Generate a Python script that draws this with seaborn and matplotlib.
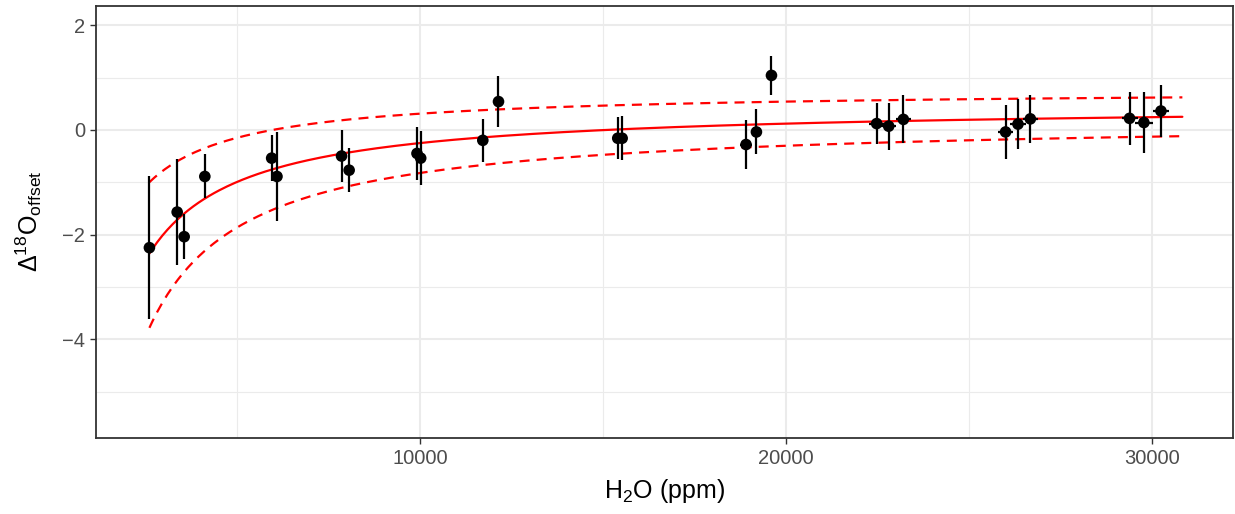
import numpy as np
import pandas as pd
import matplotlib
matplotlib.use("Agg")
import matplotlib.pyplot as plt
import seaborn as sns

# ---- data ----
h2o_ppm = [2603, 3362, 3553, 4118, 5945, 6090, 7855, 8063, 9918, 10019,
           11717, 12146, 15406, 15526, 18913, 19197, 19608, 22484, 22813,
           23214, 26008, 26347, 26685, 29397, 29789, 30255]
d18o_offset = [-2.25, -1.57, -2.04, -0.89, -0.54, -0.89, -0.50, -0.77, -0.45,
               -0.54, -0.20, 0.54, -0.16, -0.16, -0.28, -0.04, 1.04, 0.12,
               0.07, 0.20, -0.04, 0.11, 0.21, 0.22, 0.14, 0.36]
d18o_err = [1.37, 1.02, 0.43, 0.42, 0.44, 0.85, 0.50, 0.42, 0.50, 0.52,
            0.41, 0.48, 0.40, 0.42, 0.46, 0.43, 0.38, 0.39, 0.45, 0.46,
            0.52, 0.47, 0.46, 0.50, 0.59, 0.49]
h2o_err = [60, 70, 70, 80, 90, 90, 100, 100, 110, 110, 120, 120, 140, 140,
           160, 160, 160, 200, 200, 210, 210, 210, 210, 220, 240, 215]

# fitted model  y = a + b / x  (fit and band coefficients)
fit_x_range = [2603, 30841]
fit_coef = [0.49, -7420.0]
upper_coef = [0.77, -4606.0]
lower_coef = [0.217, -10405.0]

x_ticks = [10000, 20000, 30000]
y_ticks = [-4, -2, 0, 2]

# ---- figure ----
sns.set_theme(style="white")
plt.rcParams["font.family"] = ["Liberation Sans", "DejaVu Sans"]
plt.rcParams["mathtext.fontset"] = "custom"
plt.rcParams["mathtext.rm"] = "Liberation Sans"
plt.rcParams["mathtext.it"] = "Liberation Sans:italic"
plt.rcParams["mathtext.bf"] = "Liberation Sans:bold"

W, H = 1235, 514
fig = plt.figure(figsize=(W / 100, H / 100), dpi=100)
left, right, top, bottom = 96, 1233, 5.5, 437.5
ax = fig.add_axes([left / W, 1 - bottom / H, (right - left) / W, (bottom - top) / H])

df = pd.DataFrame({"x": h2o_ppm, "y": d18o_offset, "ye": d18o_err, "xe": h2o_err})

xs = np.linspace(fit_x_range[0], fit_x_range[1], 400)
curves = pd.DataFrame({
    "x": np.concatenate([xs, xs, xs]),
    "y": np.concatenate([fit_coef[0] + fit_coef[1] / xs,
                         upper_coef[0] + upper_coef[1] / xs,
                         lower_coef[0] + lower_coef[1] / xs]),
    "kind": ["fit"] * len(xs) + ["upper"] * len(xs) + ["lower"] * len(xs),
})

# grid
ax.set_xlim(1143, 32225)
ax.set_ylim(-5.875, 2.375)
for v in [5000, 15000, 25000]:
    ax.axvline(v, color="#EBEBEB", lw=0.8, zorder=0)
for v in [-5, -3, -1, 1]:
    ax.axhline(v, color="#EBEBEB", lw=0.8, zorder=0)
for v in x_ticks:
    ax.axvline(v, color="#EBEBEB", lw=1.5, zorder=0)
for v in y_ticks:
    ax.axhline(v, color="#EBEBEB", lw=1.5, zorder=0)

# fit lines
sns.lineplot(data=curves[curves.kind == "fit"], x="x", y="y", color="#FF0000",
             lw=1.6, ax=ax, zorder=2, legend=False)
for k in ["upper", "lower"]:
    sns.lineplot(data=curves[curves.kind == k], x="x", y="y", color="#FF0000",
                 lw=1.6, ax=ax, zorder=2, legend=False, dashes=False,
                 linestyle=(0, (4.5, 3.2)))

# error bars + points
ax.errorbar(df.x, df.y, yerr=df.ye, xerr=df.xe, fmt="none", ecolor="black",
            elinewidth=1.6, capsize=0, zorder=3)
sns.scatterplot(data=df, x="x", y="y", color="black", s=70, edgecolor="none",
                ax=ax, zorder=4, legend=False)

ax.set_xticks(x_ticks)
ax.set_xticklabels([str(v) for v in x_ticks])
ax.set_yticks(y_ticks)
ax.set_yticklabels(["\u22124", "\u22122", "0", "2"])
ax.tick_params(axis="both", which="major", length=4, width=1.0, color="#333333",
               labelcolor="#4D4D4D", labelsize=14.5, pad=4, direction="out",
               bottom=True, left=True)

for s in ax.spines.values():
    s.set_color("#333333")
    s.set_linewidth(1.3)

ax.set_xlabel(r"H$_2$O (ppm)", fontsize=18, color="black", labelpad=7)
ax.set_ylabel(r"$\Delta^{18}$O$_{\mathrm{offset}}$", fontsize=18, color="black", labelpad=13)

fig.savefig("out.png", dpi=100)
